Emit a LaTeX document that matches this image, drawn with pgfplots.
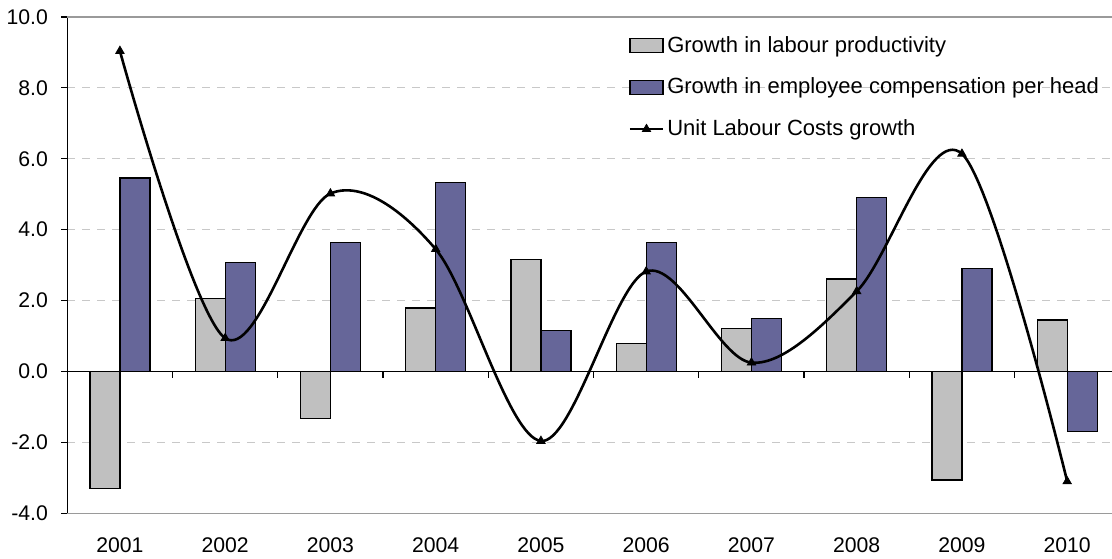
\documentclass[border=0pt]{standalone}
\usepackage{fontspec}
\setmainfont{Liberation Sans}
\usepackage{pgfplots}
\pgfplotsset{compat=1.18}
\definecolor{barGray}{HTML}{C0C0C0}
\definecolor{barBlue}{HTML}{666699}
\definecolor{gridGray}{HTML}{C8C8C8}
\definecolor{frameGray}{HTML}{9A9A9A}
\pgfplotsset{
  my bar legend/.style={legend image code/.code={\draw[##1] (0bp,-3.5bp) rectangle (16.5bp,3.5bp); \path (18bp,0bp);}},
  my line legend/.style={legend image code/.code={\draw[##1, mark repeat=2, mark phase=2] plot coordinates {(0bp,0bp) (8.25bp,0bp) (16.5bp,0bp)}; \path (18bp,0bp);}},
}
\begin{document}
\begin{tikzpicture}
\useasboundingbox (0,0) rectangle (556bp,279.5bp);
\clip (0,0) rectangle (556bp,279.5bp);
\begin{axis}[
  at={(33.65bp,22.85bp)}, anchor=south west,
  scale only axis,
  width=526.25bp, height=248.15bp,
  xmin=-0.5, xmax=9.5, ymin=-4, ymax=10,
  axis x line*=bottom, axis y line*=left,
  x axis line style={frameGray, line width=0.6bp},
  y axis line style={black, line width=0.65bp},
  xtick={0,...,9},
  xticklabels={2001,2002,2003,2004,2005,2006,2007,2008,2009,2010},
  xtick style={draw=none},
  xticklabel style={anchor=north, inner sep=0pt, yshift=-9bp},
  ytick={-4,-2,0,2,4,6,8,10},
  yticklabels={-4.0,-2.0,0.0,2.0,4.0,6.0,8.0,10.0},
  ytick style={black, line width=0.6bp},
  tick align=outside,
  major tick length=3bp,
  yticklabel style={anchor=east, inner sep=0pt, xshift=-6.5bp},
  font=\fontsize{10.6bp}{12.7bp}\selectfont,
  ymajorgrids,
  major grid style={gridGray, line width=0.6bp, dash pattern=on 4bp off 3.5bp},
  legend style={draw=none, fill=none, at={(0.533,0.962)}, anchor=north west,
    inner sep=0pt, row sep=11.4bp,
    nodes={inner sep=0pt, anchor=west, font=\fontsize{11bp}{13bp}\selectfont}},
  legend cell align=left,
  clip=false,
]
\draw[frameGray, line width=0.6bp] (rel axis cs:0,1) -- (rel axis cs:1,1);
\draw[black, line width=0.65bp] (axis cs:-0.5,0) -- (axis cs:9.5,0);
\draw[black, line width=0.6bp] (axis cs:0.5,0) -- ++(0pt,-3.2bp);
\draw[black, line width=0.6bp] (axis cs:1.5,0) -- ++(0pt,-3.2bp);
\draw[black, line width=0.6bp] (axis cs:2.5,0) -- ++(0pt,-3.2bp);
\draw[black, line width=0.6bp] (axis cs:3.5,0) -- ++(0pt,-3.2bp);
\draw[black, line width=0.6bp] (axis cs:4.5,0) -- ++(0pt,-3.2bp);
\draw[black, line width=0.6bp] (axis cs:5.5,0) -- ++(0pt,-3.2bp);
\draw[black, line width=0.6bp] (axis cs:6.5,0) -- ++(0pt,-3.2bp);
\draw[black, line width=0.6bp] (axis cs:7.5,0) -- ++(0pt,-3.2bp);
\draw[black, line width=0.6bp] (axis cs:8.5,0) -- ++(0pt,-3.2bp);

\addplot[ybar, bar width=15bp, bar shift=-7.5bp, fill=barGray, draw=black, line width=0.6bp, my bar legend]
coordinates {(0,-3.30) (1,2.05) (2,-1.33) (3,1.79) (4,3.17) (5,0.79) (6,1.22) (7,2.61) (8,-3.06) (9,1.45)};
\addlegendentry{Growth in labour productivity}

\addplot[ybar, bar width=15bp, bar shift=7.5bp, fill=barBlue, draw=black, line width=0.6bp, my bar legend]
coordinates {(0,5.46) (1,3.07) (2,3.63) (3,5.33) (4,1.16) (5,3.63) (6,1.49) (7,4.91) (8,2.90) (9,-1.70)};
\addlegendentry{Growth in employee compensation per head}

\addplot[black, line width=1.3bp, smooth, tension=0.55, mark=triangle*, mark size=2.4bp,
  mark options={solid, line width=0.4bp}, my line legend]
coordinates {(0,9.04) (1,0.94) (2,5.02) (3,3.45) (4,-1.96) (5,2.82) (6,0.25) (7,2.26) (8,6.14) (9,-3.10)};
\addlegendentry{Unit Labour Costs growth}
\end{axis}
\end{tikzpicture}
\end{document}
